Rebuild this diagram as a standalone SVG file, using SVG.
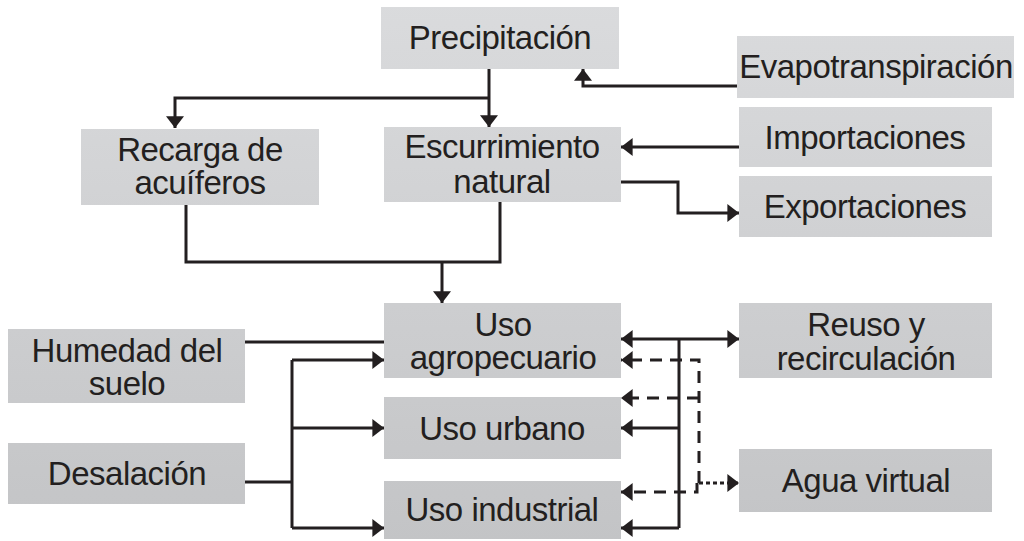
<svg xmlns="http://www.w3.org/2000/svg" width="1024" height="541" viewBox="0 0 1024 541">
<style>
.box{fill:url(#g)}
.t{font-family:"Liberation Sans",Arial,Helvetica,sans-serif;font-size:33px;letter-spacing:-0.5px;fill:#231f20;text-anchor:middle}
.c{fill:none;stroke:#231f20;stroke-width:3}
.d{stroke-dasharray:12 8}
.o{stroke-dasharray:4 3}
</style>
<defs>
<linearGradient id="g" gradientUnits="userSpaceOnUse" x1="0" y1="0" x2="0" y2="541">
<stop offset="0" stop-color="#dadbdd"/>
<stop offset="1" stop-color="#c3c4c6"/>
</linearGradient>
<marker id="a" markerUnits="userSpaceOnUse" markerWidth="12" markerHeight="18" refX="11" refY="8.5" orient="auto" viewBox="0 0 11 17">
<path d="M0,0 L11,8.5 L0,17 Z" fill="#231f20"/>
</marker>
<marker id="s" markerUnits="userSpaceOnUse" markerWidth="12" markerHeight="18" refX="0" refY="8.5" orient="auto" viewBox="0 0 11 17">
<path d="M11,0 L0,8.5 L11,17 Z" fill="#231f20"/>
</marker>
</defs>
<rect width="1024" height="541" fill="#fff"/>
<g id="connectors">
<path class="c" d="M489,69 V127" marker-end="url(#a)"/>
<path class="c" d="M489,98 H175 V128" marker-end="url(#a)"/>
<path class="c" d="M737,86 H583 V69" marker-end="url(#a)"/>
<path class="c" d="M739,147 H621" marker-end="url(#a)"/>
<path class="c" d="M621,182 H678 V213 H739" marker-end="url(#a)"/>
<path class="c" d="M186,205 V262 H500 V202"/>
<path class="c" d="M442,262 V303" marker-end="url(#a)"/>
<path class="c" d="M245,342 H384"/>
<path class="c" d="M245,482 H292"/>
<path class="c" d="M292,360 V528"/>
<path class="c" d="M292,360 H384" marker-end="url(#a)"/>
<path class="c" d="M292,428 H384" marker-end="url(#a)"/>
<path class="c" d="M292,528 H384" marker-end="url(#a)"/>
<path class="c" d="M621,339 H739" marker-start="url(#s)" marker-end="url(#a)"/>
<path class="c" d="M679,339 V528"/>
<path class="c" d="M679,428 H621" marker-end="url(#a)"/>
<path class="c" d="M679,528 H621" marker-end="url(#a)"/>
<path class="c d" d="M699,483 V360 H621" marker-end="url(#a)"/>
<path class="c d" d="M699,398 H621" marker-end="url(#a)"/>
<path class="c d" d="M697,483 V492 H621" marker-end="url(#a)"/>
<path class="c o" d="M699,483 H739" marker-end="url(#a)"/>
</g>
<g id="precipitacion"><rect class="box" x="381" y="7" width="238" height="62"/><text class="t" x="500" y="49">Precipitación</text></g>
<g id="evapotranspiracion"><rect class="box" x="737" y="36" width="277" height="62"/><text class="t" x="876" y="78">Evapotranspiración</text></g>
<g id="recarga"><rect class="box" x="81" y="129" width="238" height="76"/><text class="t" x="200" y="161">Recarga de</text><text class="t" x="200" y="194">acuíferos</text></g>
<g id="escurrimiento"><rect class="box" x="384" y="127" width="237" height="75"/><text class="t" x="502" y="158">Escurrimiento</text><text class="t" x="502" y="193">natural</text></g>
<g id="importaciones"><rect class="box" x="739" y="107" width="253" height="60"/><text class="t" x="865" y="149">Importaciones</text></g>
<g id="exportaciones"><rect class="box" x="739" y="176" width="253" height="61"/><text class="t" x="865" y="218">Exportaciones</text></g>
<g id="uso-agropecuario"><rect class="box" x="384" y="303" width="237" height="75"/><text class="t" x="503" y="336">Uso</text><text class="t" x="503" y="369">agropecuario</text></g>
<g id="reuso"><rect class="box" x="739" y="303" width="253" height="75"/><text class="t" x="866" y="336">Reuso y</text><text class="t" x="866" y="370">recirculación</text></g>
<g id="humedad"><rect class="box" x="8" y="329" width="237" height="74"/><text class="t" x="127" y="362">Humedad del</text><text class="t" x="127" y="395">suelo</text></g>
<g id="uso-urbano"><rect class="box" x="384" y="397" width="237" height="62"/><text class="t" x="502" y="440">Uso urbano</text></g>
<g id="desalacion"><rect class="box" x="8" y="443" width="237" height="61"/><text class="t" x="127" y="485">Desalación</text></g>
<g id="agua-virtual"><rect class="box" x="739" y="449" width="253" height="63"/><text class="t" x="866" y="492">Agua virtual</text></g>
<g id="uso-industrial"><rect class="box" x="384" y="481" width="237" height="58"/><text class="t" x="502" y="521">Uso industrial</text></g>
</svg>
